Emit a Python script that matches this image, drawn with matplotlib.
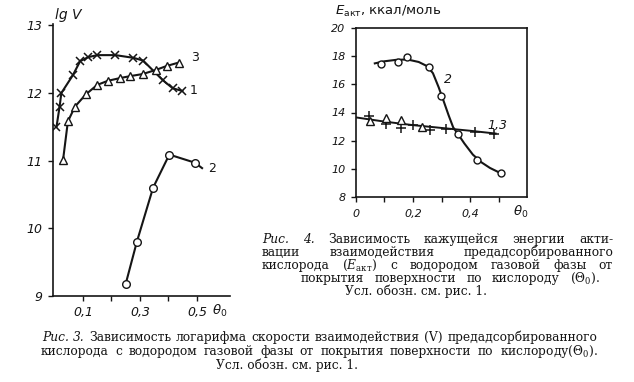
import matplotlib
matplotlib.use('Agg')
import matplotlib.pyplot as plt
from matplotlib.transforms import Affine2D

# --- Рис. 3: lg V vs theta_0 ---
th1 = [0.007, 0.018, 0.024, 0.064, 0.09, 0.118, 0.15, 0.214, 0.277, 0.311, 0.38, 0.415, 0.449]
lg1 = [11.5, 11.8, 12.0, 12.26, 12.47, 12.53, 12.56, 12.56, 12.52, 12.48, 12.19, 12.07, 12.03]
th3 = [0.03, 0.047, 0.072, 0.11, 0.15, 0.187, 0.229, 0.266, 0.309, 0.355, 0.394, 0.436]
lg3 = [11.01, 11.58, 11.8, 11.98, 12.12, 12.18, 12.22, 12.25, 12.28, 12.34, 12.40, 12.45]
th2 = [0.25, 0.289, 0.346, 0.403, 0.493]
lg2 = [9.18, 9.8, 10.6, 11.09, 10.97]
th2_line = [0.25, 0.289, 0.346, 0.403, 0.493, 0.518]
lg2_line = [9.18, 9.8, 10.6, 11.09, 10.97, 10.89]

# --- Рис. 4: E_акт vs theta_0 ---
th2e = [0.086, 0.147, 0.179, 0.255, 0.298, 0.359, 0.426, 0.508]
e2 = [17.46, 17.58, 17.93, 17.22, 15.2, 12.45, 10.62, 9.67]
th2e_line = [0.066, 0.1, 0.14, 0.18, 0.22, 0.25, 0.27, 0.29, 0.306, 0.325, 0.341, 0.36, 0.38, 0.41, 0.44, 0.47, 0.508]
e2_line = [17.5, 17.65, 17.75, 17.78, 17.6, 17.3, 16.8, 15.8, 14.9, 13.8, 12.94, 12.4, 11.8, 11.0, 10.45, 10.05, 9.67]
th1e = [0.047, 0.104, 0.157, 0.2, 0.26, 0.315, 0.418, 0.485]
e1 = [13.72, 13.17, 12.92, 13.08, 12.76, 12.85, 12.62, 12.5]
th3e = [0.05, 0.104, 0.159, 0.232]
e3 = [13.36, 13.62, 13.45, 12.95]
th13_line = [0.0, 0.1, 0.2, 0.3, 0.4, 0.49]
e13_line = [13.65, 13.35, 13.1, 12.9, 12.7, 12.5]

cap3 = [
    [('Рис.', 'italic'), ('3.', 'italic'), 'Зависимость', 'логарифма', 'скорости',
     'взаимодействия', '(V)', 'предадсорбированного'],
    ['кислорода', 'с', 'водородом', 'газовой', 'фазы', 'от', 'покрытия', 'поверхности',
     'по', r'кислороду$(\Theta_0)$.'],
    ['Усл.', 'обозн.', 'см.', 'рис.', '1.'],
]
cap4 = [
    [('Рис.', 'italic'), ('4.', 'italic'), 'Зависимость', 'кажущейся', 'энергии', 'акти-'],
    ['вации', 'взаимодействия', 'предадсорбированного'],
    ['кислорода', r'$(E_{\mathrm{акт}})$', 'с', 'водородом', 'газовой', 'фазы', 'от'],
    ['покрытия', 'поверхности', 'по', 'кислороду', r'$(\Theta_0)$.'],
    ['Усл.', 'обозн.', 'см.', 'рис.', '1.'],
]

W, H = 634, 382
fig = plt.figure(figsize=(6.34, 3.82), dpi=100)
px = Affine2D().scale(1 / W, -1 / H).translate(0, 1) + fig.transFigure
ink = '#151515'

def box(l, t, r, b):
    return [l / W, 1 - b / H, (r - l) / W, (b - t) / H]

def style_ticks(ax, size):
    ax.tick_params(direction='out', length=3.5, width=1, colors=ink, labelsize=size, pad=3)
    for lab in ax.get_xticklabels() + ax.get_yticklabels():
        lab.set_fontstyle('italic')
    for s in ax.spines.values():
        s.set_linewidth(1.2)
        s.set_color(ink)

# left chart
ax1 = fig.add_axes(box(52.7, 24, 230, 296))
ax1.set_xlim(-0.0063, 0.616)
ax1.set_ylim(9, 13.02)
ax1.spines['top'].set_visible(False)
ax1.spines['right'].set_visible(False)
ax1.plot(th1, lg1, color=ink, lw=1.5, marker='x', ms=5.5, mew=1.1)
ax1.plot(th3, lg3, color=ink, lw=1.5, marker='^', ms=6, mfc='white', mew=1.0)
ax1.plot(th2_line, lg2_line, color=ink, lw=1.5)
ax1.plot(th2, lg2, ls='none', color=ink, marker='o', ms=5.5, mfc='white', mew=1.0)
ax1.set_xticks([0.1, 0.2, 0.3, 0.4, 0.5])
ax1.set_xticklabels(['0,1', '', '0,3', '', '0,5'])
ax1.set_yticks([9, 10, 11, 12, 13])
ax1.set_yticklabels(['9', '10', '11', '12', '13'])
style_ticks(ax1, 9)
ax1.tick_params(axis='x', pad=4)
ax1.tick_params(axis='y', pad=4)
ax1.text(0.493, 12.53, '3', fontsize=9, va='center', ha='center', color=ink)
ax1.text(0.49, 12.03, '1', fontsize=9, va='center', ha='center', color=ink)
ax1.text(0.553, 10.89, '2', fontsize=9, va='center', ha='center', color=ink)
fig.text(55, 19, 'lg V', transform=px, fontsize=10, style='italic', color=ink)
fig.text(212, 311, r'$\theta_0$', transform=px, fontsize=9.5, va='center', color=ink)

# right chart
ax2 = fig.add_axes(box(356, 28.3, 527, 196.7))
ax2.set_xlim(0, 0.6)
ax2.set_ylim(8, 20)
ax2.plot(th13_line, e13_line, color=ink, lw=1.4)
ax2.plot(th1e, e1, ls='none', color=ink, marker='+', ms=6.5, mew=1.1)
ax2.plot(th3e, e3, ls='none', color=ink, marker='^', ms=5.5, mfc='white', mew=1.0)
ax2.plot(th2e_line, e2_line, color=ink, lw=1.5)
ax2.plot(th2e, e2, ls='none', color=ink, marker='o', ms=5, mfc='white', mew=1.0)
ax2.set_xticks([0, 0.1, 0.2, 0.3, 0.4, 0.5])
ax2.set_xticklabels(['0', '', '0,2', '', '0,4', ''])
ax2.set_yticks([8, 10, 12, 14, 16, 18, 20])
ax2.set_yticklabels(['8', '10', '12', '14', '16', '18', '20'])
style_ticks(ax2, 8)
ax2.tick_params(axis='x', pad=5)
ax2.tick_params(axis='y', pad=4)
ax2.text(0.323, 16.32, '2', fontsize=9, style='italic', va='center', ha='center', color=ink)
ax2.text(0.46, 13.1, '1,3', fontsize=9, style='italic', va='center', ha='left', color=ink)
fig.text(335, 15, r'$E_{\mathrm{акт}}$, ккал/моль', transform=px, fontsize=9.5,
         color=ink, math_fontfamily='dejavusans', va='baseline')
fig.text(513, 212, r'$\theta_0$', transform=px, fontsize=9.5, va='center', color=ink)

# captions, set justified word by word
CAP = 8.8
rend = fig.canvas.get_renderer()

def put_line(words, x0, x1, yb, size=CAP):
    while True:
        ts = []
        for w in words:
            s, st = w if isinstance(w, tuple) else (w, 'normal')
            ts.append(fig.text(0, yb, s, transform=px, fontsize=size, family='DejaVu Serif',
                               style=st, va='baseline', ha='left', color=ink,
                               math_fontfamily='dejavuserif'))
        ws = [t.get_window_extent(rend).width for t in ts]
        gap = (x1 - x0 - sum(ws)) / max(len(ts) - 1, 1)
        if gap >= 3.5 or size < 6:
            break
        for t in ts:
            t.remove()
        size -= 0.2
    x = x0
    for t, w in zip(ts, ws):
        t.set_position((x, yb))
        x += w + gap

def put_center(words, xc, yb, size=CAP):
    fig.text(xc, yb, ' '.join(words), transform=px, fontsize=size, family='DejaVu Serif',
             va='baseline', ha='center', color=ink)

put_line(cap3[0], 42, 597, 341)
put_line(cap3[1], 41, 598, 355)
put_center(cap3[2], 287, 369)

put_line(cap4[0], 262, 613, 243)
put_line(cap4[1], 262, 613, 256)
put_line(cap4[2], 262, 613, 269)
put_line(cap4[3], 301, 600, 282)
put_center(cap4[4], 416, 295)

fig.savefig('out.png', dpi=100)
